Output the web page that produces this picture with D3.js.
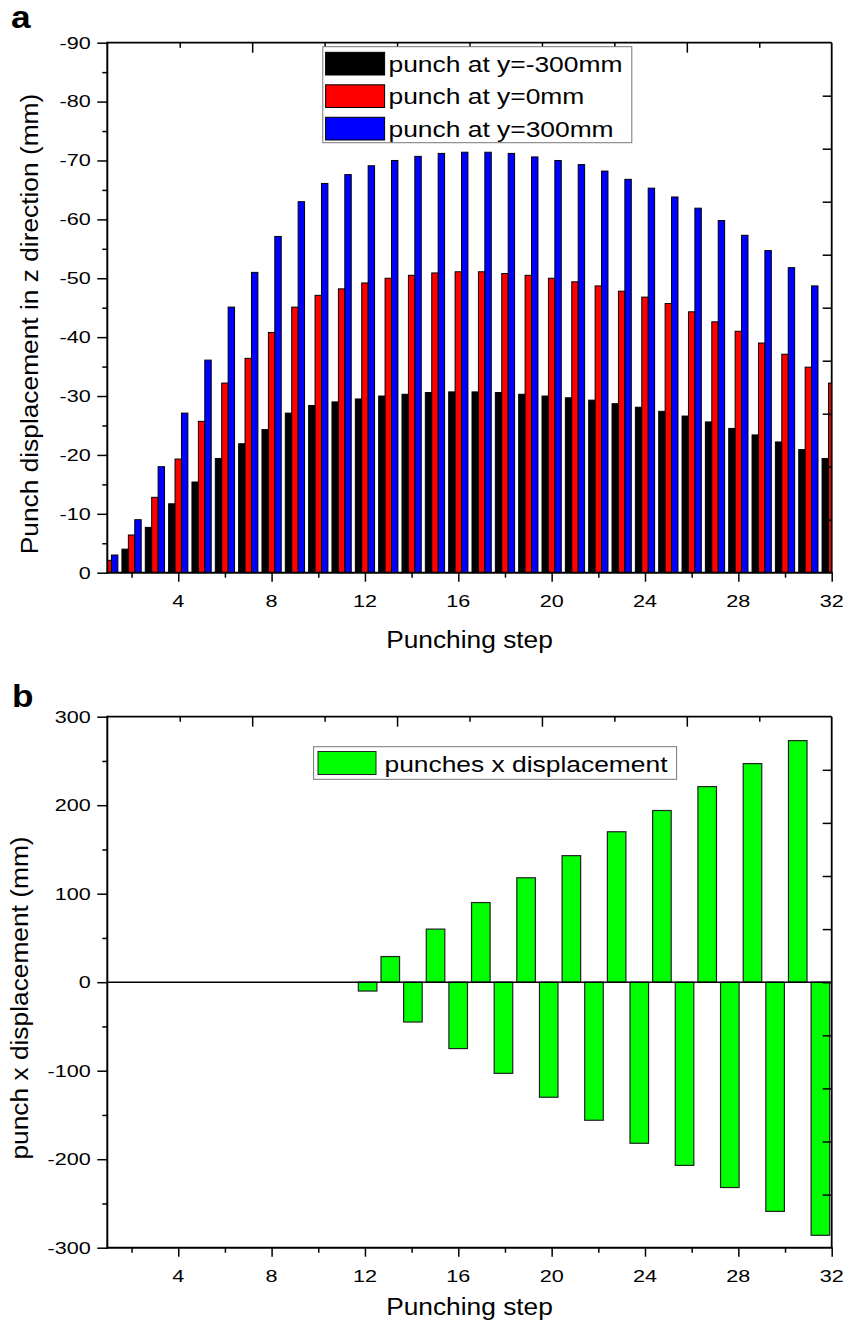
<!DOCTYPE html>
<html>
<head>
<meta charset="utf-8">
<script src="https://cdn.jsdelivr.net/npm/d3@7"></script>
<style>
  body { margin: 0; background: #fff; }
  svg { display: block; }
  text { font-family: "Liberation Sans", Arial, sans-serif; fill: #000; }
</style>
</head>
<body>
<svg id="fig" width="856" height="1332"></svg>
<script>
// ---- data ----
const steps = [1, 2, 3, 4, 5, 6, 7, 8, 9, 10, 11, 12, 13, 14, 15, 16,
               17, 18, 19, 20, 21, 22, 23, 24, 25, 26, 27, 28, 29, 30, 31, 32];

// punch displacement in z direction (mm)
const zAtMinus300 = [-1.0, -4.0, -7.7, -11.7, -15.4, -19.4, -21.9, -24.3, -27.1, -28.4, -29.0, -29.5,
                     -30.0, -30.3, -30.6, -30.7, -30.7, -30.6, -30.3, -30.0, -29.7, -29.3, -28.7, -28.1,
                     -27.4, -26.6, -25.6, -24.5, -23.4, -22.2, -20.9, -19.4];
const zAtZero     = [-2.1, -6.4, -12.8, -19.3, -25.7, -32.2, -36.4, -40.8, -45.1, -47.1, -48.2, -49.2,
                     -50.0, -50.5, -50.9, -51.1, -51.1, -50.8, -50.5, -50.0, -49.4, -48.7, -47.8, -46.8,
                     -45.7, -44.3, -42.6, -41.0, -39.0, -37.1, -34.9, -32.2];
const zAtPlus300  = [-3.0, -9.0, -18.0, -27.1, -36.1, -45.1, -51.0, -57.1, -63.0, -66.1, -67.6, -69.1,
                     -70.0, -70.7, -71.2, -71.4, -71.4, -71.2, -70.6, -70.0, -69.3, -68.2, -66.8, -65.3,
                     -63.8, -61.9, -59.8, -57.3, -54.7, -51.8, -48.7, -45.0];

// punch x displacement (mm)
const xDisplacement = [0, 0, 0, 0, 0, 0, 0, 0, 0, 0, 0, -10, 29, -45, 60, -75, 90, -103, 118, -130,
                       143, -156, 170, -182, 194, -207, 221, -232, 247, -259, 273, -286];

const zSeriesNames = ["punch at y=-300mm", "punch at y=0mm", "punch at y=300mm"];
const zSeriesColors = ["#000000", "#ff0000", "#0000ff"];
const xSeriesName = "punches x displacement";
const xSeriesColor = "#00ff00";

// tick values
const stepMajorTicks = [4, 8, 12, 16, 20, 24, 28, 32];
const stepMinorTicks = [2, 6, 10, 14, 18, 22, 26, 30];
const zMajorTicks = [0, -10, -20, -30, -40, -50, -60, -70, -80, -90];
const zMinorTicks = [-5, -15, -25, -35, -45, -55, -65, -75, -85];
const xdMajorTicks = [-300, -200, -100, 0, 100, 200, 300];
const xdMinorTicks = [-250, -150, -50, 50, 150, 250];

// ---- layout ----
const svg = d3.select("#fig");
const L = 107.3, R = 831.7;
const panelA = { top: 42.7, bottom: 572.7 };
const panelB = { top: 716.7, bottom: 1247.7 };

const tickFont = 16, tickStretch = 1.35;
const titleFont = 23.5, titleStretch = 1.12;
const legendFont = 22, legendStretch = 1.2;

function stretchedText(g, str, x, y, size, sx, anchor, opts = {}) {
  const rot = opts.rotate ? ` rotate(${opts.rotate})` : "";
  return g.append("text")
    .attr("transform", `translate(${x},${y})${rot} scale(${sx},1)`)
    .attr("text-anchor", anchor)
    .attr("font-size", size)
    .attr("font-weight", opts.bold ? "bold" : null)
    .text(str);
}

function tickMarks(g, axisGen, translate) {
  const a = g.append("g").attr("transform", translate).call(axisGen);
  a.select(".domain").remove();
  a.selectAll("line").attr("stroke", "#000").attr("stroke-width", 1.5);
  a.selectAll("text").remove();
  return a;
}

function frame(g, top, bottom) {
  const fr = g.append("g").attr("stroke", "#000").attr("fill", "none");
  fr.append("line").attr("x1", L).attr("x2", R).attr("y1", top).attr("y2", top).attr("stroke-width", 1.8);
  fr.append("line").attr("x1", R).attr("x2", R).attr("y1", top).attr("y2", bottom).attr("stroke-width", 1.8);
  fr.append("line").attr("x1", L).attr("x2", L).attr("y1", top - 0.9).attr("y2", bottom + 1).attr("stroke-width", 2);
  fr.append("line").attr("x1", L - 1).attr("x2", R + 0.9).attr("y1", bottom).attr("y2", bottom).attr("stroke-width", 2);
}

// 10 equal divisions used by the top and right axes
function decorAxes(g, top, bottom) {
  const tx = d3.scaleLinear().domain([0, 10]).range([L, R]);
  const ty = d3.scaleLinear().domain([0, 10]).range([top, bottom]);
  tickMarks(g, d3.axisTop(tx).tickValues([2, 4, 6, 8]).tickSize(-10).tickSizeOuter(0), `translate(0,${top})`);
  tickMarks(g, d3.axisTop(tx).tickValues([1, 3, 5, 7, 9]).tickSize(-5).tickSizeOuter(0), `translate(0,${top})`);
  tickMarks(g, d3.axisRight(ty).tickValues([1, 2, 3, 4, 5, 6, 7, 8, 9]).tickSize(-9).tickSizeOuter(0), `translate(${R},0)`);
}

function stepAxis(g, x, bottom) {
  tickMarks(g, d3.axisBottom(x).tickValues(stepMajorTicks).tickSize(9).tickSizeOuter(0), `translate(0,${bottom})`);
  tickMarks(g, d3.axisBottom(x).tickValues(stepMinorTicks).tickSize(5).tickSizeOuter(0), `translate(0,${bottom})`);
  stepMajorTicks.forEach(v => stretchedText(g, String(v), x(v), bottom + 34, tickFont, tickStretch, "middle"));
}

function valueAxis(g, y, majors, minors) {
  tickMarks(g, d3.axisLeft(y).tickValues(majors).tickSize(10).tickSizeOuter(0), `translate(${L},0)`);
  tickMarks(g, d3.axisLeft(y).tickValues(minors).tickSize(5).tickSizeOuter(0), `translate(${L},0)`);
  majors.forEach(v => stretchedText(g, String(v), L - 16.5, y(v) + 5.8, tickFont, tickStretch, "end"));
}

// ---- panel a: z displacement, grouped bars ----
{
  const g = svg.append("g");
  const x = d3.scaleLinear().domain([0.96, 32]).range([L, R]);
  const y = d3.scaleLinear().domain([0, -90]).range([panelA.bottom, panelA.top]);
  const bw = (x(2) - x(1)) * 0.275;

  svg.append("defs").append("clipPath").attr("id", "clipA")
    .append("rect").attr("x", L).attr("y", panelA.top).attr("width", R - L).attr("height", panelA.bottom - panelA.top);

  const series = [zAtMinus300, zAtZero, zAtPlus300];
  const bars = g.append("g").attr("clip-path", "url(#clipA)");
  series.forEach((vals, j) => {
    bars.append("g").selectAll("rect").data(steps.map((s, i) => ({ s, v: vals[i] })))
      .join("rect")
      .attr("x", d => x(d.s) + (j - 1.5) * bw)
      .attr("width", bw)
      .attr("y", d => y(d.v))
      .attr("height", d => y(0) - y(d.v))
      .attr("fill", zSeriesColors[j])
      .attr("stroke", "#000")
      .attr("stroke-width", 1);
  });

  decorAxes(g, panelA.top, panelA.bottom);
  stepAxis(g, x, panelA.bottom);
  valueAxis(g, y, zMajorTicks, zMinorTicks);
  frame(g, panelA.top, panelA.bottom);

  // legend
  const lg = g.append("g");
  lg.append("rect").attr("x", 322.8).attr("y", 46.7).attr("width", 309).attr("height", 96)
    .attr("fill", "#fff").attr("stroke", "#777").attr("stroke-width", 1);
  zSeriesNames.forEach((name, j) => {
    const ry = 52.3 + j * 32.5;
    lg.append("rect").attr("x", 325.6).attr("y", ry).attr("width", 59).attr("height", 22.7)
      .attr("fill", zSeriesColors[j]).attr("stroke", "#000").attr("stroke-width", 1);
    stretchedText(lg, name, 388.5, ry + 19.5, legendFont, legendStretch, "start");
  });

  stretchedText(g, "Punching step", (L + R) / 2, 648, titleFont, titleStretch, "middle");
  stretchedText(g, "Punch displacement in z direction (mm)", 37.5, 324, titleFont, titleStretch, "middle", { rotate: -90 });
  stretchedText(g, "a", 11, 28, 32, 1.1, "start", { bold: true });
}

// ---- panel b: x displacement ----
{
  const g = svg.append("g");
  const x = d3.scaleLinear().domain([0.96, 32]).range([L, R]);
  const xb = d3.scaleBand().domain(steps).range([L, R]).paddingInner(0.18).paddingOuter(0.09);
  const y = d3.scaleLinear().domain([-300, 300]).range([panelB.bottom, panelB.top]);

  g.append("g").selectAll("rect")
    .data(steps.map((s, i) => ({ s, v: xDisplacement[i] })).filter(d => d.v !== 0))
    .join("rect")
    .attr("x", d => xb(d.s))
    .attr("width", xb.bandwidth())
    .attr("y", d => y(Math.max(0, d.v)))
    .attr("height", d => Math.abs(y(d.v) - y(0)))
    .attr("fill", xSeriesColor)
    .attr("stroke", "#222")
    .attr("stroke-width", 1.2);

  g.append("line").attr("x1", L).attr("x2", R).attr("y1", y(0)).attr("y2", y(0))
    .attr("stroke", "#000").attr("stroke-width", 1.6);

  decorAxes(g, panelB.top, panelB.bottom);
  stepAxis(g, x, panelB.bottom);
  valueAxis(g, y, xdMajorTicks, xdMinorTicks);
  frame(g, panelB.top, panelB.bottom);

  const lg = g.append("g");
  lg.append("rect").attr("x", 313.6).attr("y", 746.7).attr("width", 363).attr("height", 32.6)
    .attr("fill", "#fff").attr("stroke", "#777").attr("stroke-width", 1);
  lg.append("rect").attr("x", 318).attr("y", 751.5).attr("width", 58).attr("height", 23)
    .attr("fill", xSeriesColor).attr("stroke", "#222").attr("stroke-width", 1);
  stretchedText(lg, xSeriesName, 384.5, 771.5, legendFont, legendStretch, "start");

  stretchedText(g, "Punching step", (L + R) / 2, 1315, titleFont, titleStretch, "middle");
  stretchedText(g, "punch x displacement (mm)", 28, 998, titleFont, titleStretch, "middle", { rotate: -90 });
  stretchedText(g, "b", 12, 707, 32, 1.1, "start", { bold: true });
}
</script>
</body>
</html>
